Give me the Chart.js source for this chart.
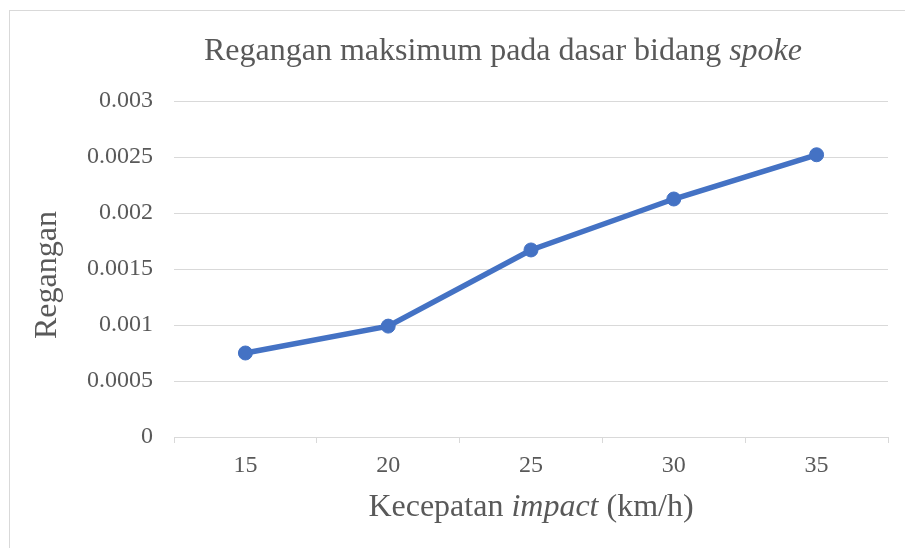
<!DOCTYPE html>
<html>
<head>
<meta charset="utf-8">
<script src="https://cdn.jsdelivr.net/npm/chart.js@4"></script>
<style>
  html, body { margin: 0; padding: 0; background: #fff; }
  #wrap { width: 905px; height: 548px; position: relative; }
</style>
</head>
<body>
<div id="wrap"><canvas id="regangan" width="905" height="548"></canvas></div>
<script>
// data
var kecepatan = ['15', '20', '25', '30', '35'];
var regangan = [0.00075, 0.00099, 0.00167, 0.002125, 0.00252];
var yTickLabels = ['0', '0.0005', '0.001', '0.0015', '0.002', '0.0025', '0.003'];

var serif = "'Liberation Serif', 'Times New Roman', serif";
var teksAbu = '#595959';

// draws a line of text made of plain/italic pieces, centred on x
function tulisCampur(ctx, parts, x, y, size) {
    var total = 0;
    parts.forEach(function (p) {
        ctx.font = (p.italic ? 'italic ' : '') + size + 'px ' + serif;
        p.w = ctx.measureText(p.text).width;
        total += p.w;
    });
    var cx = x - total / 2;
    parts.forEach(function (p) {
        ctx.font = (p.italic ? 'italic ' : '') + size + 'px ' + serif;
        ctx.fillText(p.text, cx, y);
        cx += p.w;
    });
}

var judulPlugin = {
    id: 'judul',
    beforeDraw: function (chart) {
        var ctx = chart.ctx;
        ctx.save();
        ctx.strokeStyle = '#d9d9d9';
        ctx.lineWidth = 1;
        ctx.strokeRect(9.5, 10.5, 1000, 1000);
        ctx.restore();
    },
    afterDraw: function (chart) {
        var ctx = chart.ctx;
        var area = chart.chartArea;
        ctx.save();
        ctx.fillStyle = teksAbu;
        ctx.textBaseline = 'alphabetic';
        tulisCampur(ctx, [
            { text: 'Regangan maksimum pada dasar bidang ' },
            { text: 'spoke', italic: true }
        ], 503, 60, 32);
        tulisCampur(ctx, [
            { text: 'Kecepatan ' },
            { text: 'impact', italic: true },
            { text: ' (km/h)' }
        ], (area.left + area.right) / 2, 516, 32);
        ctx.translate(56, 275);
        ctx.rotate(-Math.PI / 2);
        tulisCampur(ctx, [{ text: 'Regangan' }], 0, 0, 32);
        ctx.restore();
    }
};

new Chart(document.getElementById('regangan'), {
    type: 'line',
    data: {
        labels: kecepatan,
        datasets: [{
            data: regangan,
            borderColor: '#4472C4',
            backgroundColor: '#4472C4',
            borderWidth: 5.5,
            pointRadius: 7,
            pointHoverRadius: 7,
            pointBorderWidth: 1,
            tension: 0
        }]
    },
    options: {
        responsive: false,
        animation: false,
        layout: { padding: { top: 101, right: 17, left: 0, bottom: 0 } },
        plugins: {
            legend: { display: false },
            title: { display: false },
            tooltip: { enabled: false }
        },
        scales: {
            x: {
                offset: true,
                grid: {
                    offset: true,
                    drawOnChartArea: false,
                    drawTicks: true,
                    tickLength: 6,
                    color: '#d9d9d9'
                },
                border: { color: '#d9d9d9' },
                ticks: {
                    color: teksAbu,
                    font: { family: serif, size: 24 },
                    padding: 8,
                    maxRotation: 0
                },
                afterFit: function (s) { s.height = 111; }
            },
            y: {
                min: 0,
                max: 0.003,
                ticks: {
                    stepSize: 0.0005,
                    color: teksAbu,
                    font: { family: serif, size: 24 },
                    padding: 21,
                    callback: function (v, i) { return yTickLabels[i]; }
                },
                grid: { color: '#d9d9d9', drawTicks: false },
                border: { display: false },
                afterFit: function (s) { s.width = 174; }
            }
        }
    },
    plugins: [judulPlugin]
});
</script>
</body>
</html>
